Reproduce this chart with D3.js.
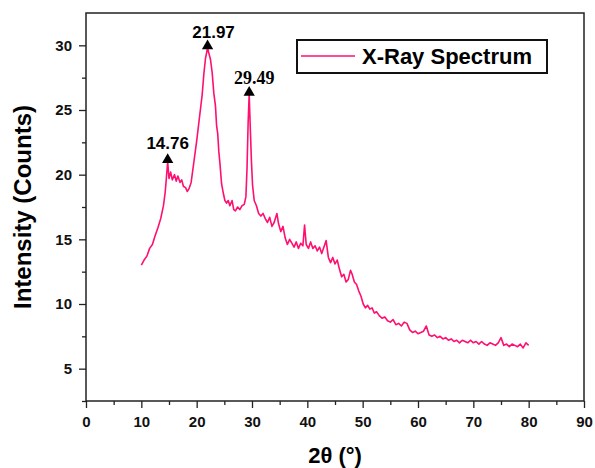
<!DOCTYPE html>
<html>
<head>
<meta charset="utf-8">
<script src="https://cdn.jsdelivr.net/npm/d3@7"></script>
<style>
  body { margin: 0; background: #fff; }
  text { font-family: "Liberation Sans", Arial, sans-serif; }
</style>
</head>
<body>
<div class="chart"></div>
<script>
const twoTheta = [10.0,10.5,11.0,11.5,12.0,12.5,13.0,13.5,14.0,14.3,14.5,14.76,15.0,15.3,15.6,16.0,16.3,16.6,17.0,17.3,17.6,18.0,18.3,18.6,19.0,19.5,20.0,20.5,21.0,21.3,21.6,21.97,22.2,22.5,22.8,23.1,23.4,23.6,23.8,24.0,24.2,24.5,24.8,25.1,25.4,25.7,26.0,26.4,26.7,27.0,27.4,27.8,28.2,28.6,28.9,29.1,29.3,29.49,29.7,29.9,30.1,30.4,30.8,31.2,31.6,32.0,32.4,32.8,33.2,33.6,34.0,34.5,34.8,35.2,35.6,36.0,36.4,36.8,37.2,37.6,38.0,38.4,38.8,39.2,39.5,39.8,40.2,40.6,41.0,41.4,41.8,42.2,42.6,43.0,43.4,43.8,44.2,44.6,45.0,45.4,45.8,46.2,46.6,47.0,47.4,47.8,48.1,48.5,48.9,49.3,49.7,50.1,50.5,50.9,51.3,51.7,52.1,52.5,53.0,53.5,54.0,54.5,55.0,55.5,56.0,56.5,57.0,57.5,58.0,58.5,59.0,59.5,60.0,60.5,61.0,61.5,62.0,62.5,63.0,63.5,64.0,64.5,65.0,65.5,66.0,66.5,67.0,67.5,68.0,68.5,69.0,69.5,70.0,70.5,71.0,71.5,72.0,72.5,73.0,73.5,74.0,74.5,75.0,75.5,76.0,76.5,77.0,77.5,78.0,78.5,79.0,79.5,80.0]
const intensity = [13.0,13.4,13.7,14.3,14.6,15.3,15.9,16.6,17.6,18.6,19.6,21.0,19.7,20.2,19.6,20.0,19.5,19.9,19.4,19.6,19.1,19.0,18.7,18.9,19.4,21.0,22.6,24.4,26.2,27.8,29.0,29.8,29.4,28.9,27.9,26.3,25.3,23.8,23.2,21.8,20.9,19.3,18.6,18.0,17.8,18.0,17.6,18.0,17.3,17.2,17.5,17.3,17.6,17.7,18.3,20.5,24.0,26.2,23.5,21.0,19.2,18.0,17.6,17.0,16.8,17.0,16.6,16.3,16.7,16.0,16.3,17.0,16.2,15.6,16.0,15.1,14.6,15.0,14.7,14.4,14.8,14.3,14.7,14.5,16.1,14.6,14.3,14.8,14.3,14.5,14.1,14.4,13.9,14.4,14.9,13.6,13.2,13.6,13.1,13.4,12.7,12.1,12.3,11.7,11.9,12.6,12.3,11.7,11.5,11.0,10.6,10.0,9.7,9.9,9.6,9.7,9.3,9.4,9.1,8.9,9.0,8.7,8.6,8.8,8.4,8.5,8.3,8.6,8.5,8.0,7.8,7.9,7.7,7.8,7.9,8.3,7.6,7.5,7.6,7.4,7.5,7.3,7.4,7.2,7.3,7.1,7.2,7.0,7.2,7.1,7.0,7.2,7.0,7.1,6.9,7.1,6.9,6.8,7.0,6.9,6.8,7.0,7.4,6.8,6.9,6.7,6.9,6.8,6.7,6.9,6.6,7.0,6.8]

const peaks = [14.76, 21.97, 29.49]
const peakHeights = [21.0, 29.8, 26.2]

const xTicks = [0,10,20,30,40,50,60,70,80,90]
const xMinor = [5,15,25,35,45,55,65,75,85]
const yTicks = [5,10,15,20,25,30]
const yMinor = [2.5,7.5,12.5,17.5,22.5,27.5]

const data = twoTheta.map((t, i) => ({t: t, v: intensity[i]}))

const margin = ({top: 13, right: 11, bottom: 67, left: 86})
const width = 595 - margin.left - margin.right,
      height = 468 - margin.top - margin.bottom;

const svg = d3.select(".chart").append("svg")
  .attr("width", 595)
  .attr("height", 468)
  .append("g")
  .attr("transform", "translate(" + margin.left + "," + margin.top + ")");

const xScale = d3.scaleLinear().domain([0, 90]).range([0, width])
const yScale = d3.scaleLinear().domain([2.5, 32.5]).range([height, 0])

// axes
const xAxis = d3.axisBottom(xScale).tickValues(xTicks).tickSize(7).tickSizeOuter(0).tickPadding(8)
const xAxisMinor = d3.axisBottom(xScale).tickValues(xMinor).tickSize(4).tickSizeOuter(0).tickFormat('')
const yAxis = d3.axisLeft(yScale).tickValues(yTicks).tickSize(7).tickSizeOuter(0).tickPadding(7)
const yAxisMinor = d3.axisLeft(yScale).tickValues(yMinor).tickSize(4).tickSizeOuter(0).tickFormat('')

svg.append("g").attr("class", "axis x-axis")
  .attr("transform", `translate(0, ${height})`).call(xAxis)
svg.append("g").attr("transform", `translate(0, ${height})`).call(xAxisMinor)
svg.append("g").attr("class", "axis y-axis").call(yAxis)
svg.append("g").call(yAxisMinor)

svg.selectAll(".domain").remove()
svg.selectAll(".tick line").attr("stroke", "#222").attr("stroke-width", 1.3)
svg.selectAll(".axis text")
  .attr("font-size", 15)
  .attr("font-weight", "bold")
  .attr("fill", "#111")

// frame
svg.append("rect")
  .attr("width", width).attr("height", height)
  .attr("fill", "none").attr("stroke", "#222").attr("stroke-width", 1.5)

// labels
svg.append("text")
  .attr("text-anchor", "middle")
  .attr("x", width / 2)
  .attr("y", height + 62)
  .attr("font-size", 22)
  .attr("font-weight", "bold")
  .text("2θ (°)");

svg.append("text")
  .attr("text-anchor", "middle")
  .attr("transform", `translate(${-55}, ${height / 2}) rotate(-90)`)
  .attr("font-size", 24)
  .attr("font-weight", "bold")
  .text("Intensity (Counts)");

// spectrum
const line = d3.line()
  .x(d => xScale(d.t))
  .y(d => yScale(d.v));

svg.append("path")
  .datum(data)
  .attr("fill", "none")
  .attr("stroke", "#ff0f6f")
  .attr("stroke-width", 1.6)
  .attr("stroke-linejoin", "round")
  .attr("d", line);

// peak markers
const tri = d3.symbol().type(d3.symbolTriangle).size(55)
svg.selectAll(".peak")
  .data(peaks)
  .enter()
  .append("path")
  .attr("d", tri)
  .attr("fill", "black")
  .attr("transform", (d, i) => `translate(${xScale(d)}, ${yScale(peakHeights[i]) - 2})`)

const labelDx = [0, 6, 5]
const labelDy = [-13, -10, -10]
svg.selectAll(".plabel")
  .data(peaks)
  .enter()
  .append("text")
  .attr("x", (d, i) => xScale(d) + labelDx[i])
  .attr("y", (d, i) => yScale(peakHeights[i]) + labelDy[i])
  .attr("text-anchor", "middle")
  .attr("font-size", (d, i) => i == 2 ? 18 : 17)
  .attr("font-weight", "bold")
  .style("font-family", (d, i) => i == 2 ? '"Liberation Serif", "Times New Roman", serif' : null)
  .text(d => d.toFixed(2))

// legend
const legend = svg.append("g").attr("transform", `translate(${297 - margin.left}, ${40 - margin.top})`)
legend.append("rect")
  .attr("width", 250).attr("height", 33)
  .attr("fill", "white").attr("stroke", "#111").attr("stroke-width", 2)
legend.append("line")
  .attr("x1", 4).attr("x2", 58).attr("y1", 16).attr("y2", 16)
  .attr("stroke", "#ff0f6f").attr("stroke-width", 1.5)
legend.append("text")
  .attr("x", 65).attr("y", 24)
  .attr("font-size", 22)
  .attr("font-weight", "bold")
  .text("X-Ray Spectrum")
</script>
</body>
</html>
